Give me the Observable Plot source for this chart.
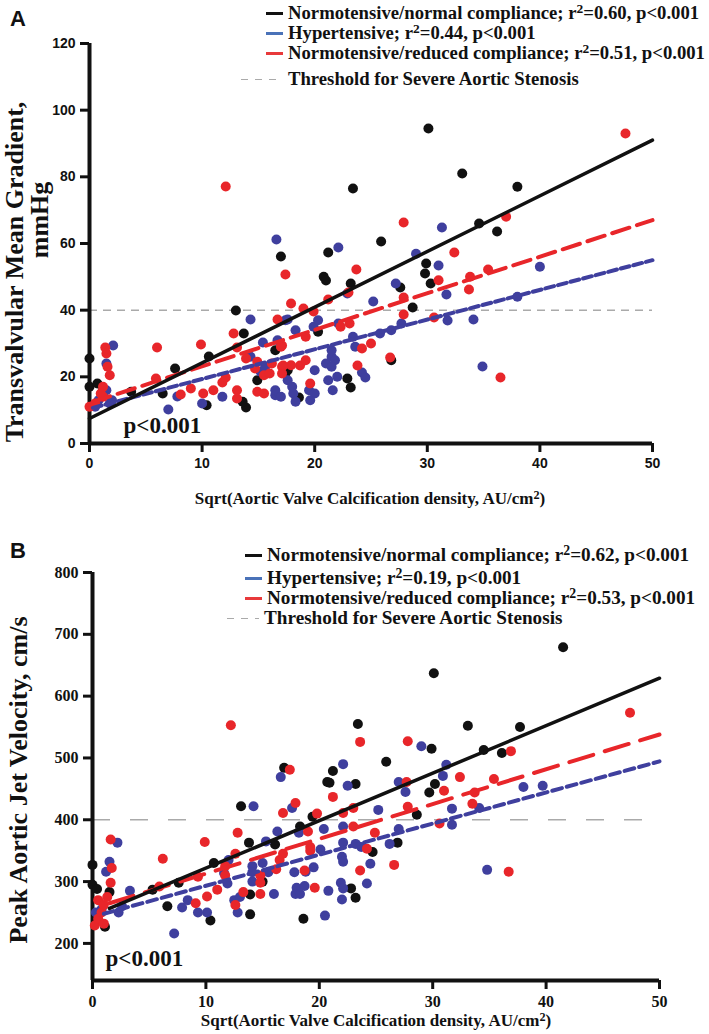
<!DOCTYPE html>
<html>
<head>
<meta charset="utf-8">
<script src="https://cdn.jsdelivr.net/npm/d3@7"></script>
<script src="https://cdn.jsdelivr.net/npm/@observablehq/plot@0.6"></script>
<style>
  html, body { margin: 0; padding: 0; background: #fff; }
  #root { position: relative; width: 709px; height: 1034px; background: #fff; overflow: hidden; }
  .abs { position: absolute; white-space: nowrap; }
  .serif { font-family: "Liberation Serif", "Times New Roman", serif; font-weight: bold; color: #111; }
  .sans { font-family: "Liberation Sans", Arial, sans-serif; font-weight: bold; color: #111; }
  .sup { font-size: 0.72em; position: relative; top: -0.45em; }
  .rowA { height: 20px; line-height: 20px; font-size: 18.7px; }
  .rowB { height: 20px; line-height: 20px; font-size: 19.2px; }
  .dash { display: inline-block; vertical-align: middle; height: 3px; margin-right: 5px; position: relative; top: -1px; }
  .ylab { transform: translate(-50%, -50%) rotate(-90deg); font-size: 26px; line-height: 1; }
</style>
</head>
<body>
<div id="root">
  <div id="pa" class="abs" style="left:0;top:0"></div>
  <div id="pb" class="abs" style="left:0;top:520px"></div>

  <div class="abs sans" style="left:10px;top:6px;font-size:22px">A</div>
  <div class="abs sans" style="left:10px;top:538px;font-size:22px">B</div>

  <div class="abs serif rowA" style="left:266px;top:3px"><span class="dash" style="width:17px;background:#111"></span>Normotensive/normal compliance; r<span class="sup">2</span>=0.60, p&lt;0.001</div>
  <div class="abs serif rowA" style="left:266px;top:23px"><span class="dash" style="width:17px;background:#4a72b8"></span>Hypertensive; r<span class="sup">2</span>=0.44, p&lt;0.001</div>
  <div class="abs serif rowA" style="left:266px;top:43px"><span class="dash" style="width:17px;background:#e8393b"></span>Normotensive/reduced compliance; r<span class="sup">2</span>=0.51, p&lt;0.001</div>
  <div class="abs serif rowA" style="left:241px;top:69px"><span class="dash" style="width:42px;height:1.5px;background:repeating-linear-gradient(90deg,#aaa 0 7px,transparent 7px 14px)"></span>Threshold for Severe Aortic Stenosis</div>

  <div class="abs serif rowB" style="left:245px;top:545px"><span class="dash" style="width:17px;background:#111"></span>Normotensive/normal compliance; r<span class="sup">2</span>=0.62, p&lt;0.001</div>
  <div class="abs serif rowB" style="left:245px;top:568px"><span class="dash" style="width:17px;background:#4a72b8"></span>Hypertensive; r<span class="sup">2</span>=0.19, p&lt;0.001</div>
  <div class="abs serif rowB" style="left:245px;top:588px"><span class="dash" style="width:17px;background:#e8393b"></span>Normotensive/reduced compliance; r<span class="sup">2</span>=0.53, p&lt;0.001</div>
  <div class="abs serif rowB" style="left:227px;top:608px"><span class="dash" style="width:32px;height:1.5px;background:repeating-linear-gradient(90deg,#aaa 0 7px,transparent 7px 14px)"></span>Threshold for Severe Aortic Stenosis</div>

  <div class="abs serif ylab" style="left:15px;top:272px">Transvalvular Mean Gradient,</div>
  <div class="abs serif ylab" style="left:40px;top:220px">mmHg</div>
  <div class="abs serif ylab" style="left:19px;top:780px">Peak Aortic Jet Velocity, cm/s</div>

  <div class="abs serif" style="left:370px;top:499px;transform:translate(-50%,-50%);font-size:17px">Sqrt(Aortic Valve Calcification density, AU/cm<span class="sup">2</span>)</div>
  <div class="abs serif" style="left:376px;top:1021px;transform:translate(-50%,-50%);font-size:17px">Sqrt(Aortic Valve Calcification density, AU/cm<span class="sup">2</span>)</div>
</div>
<script>
// ---------- Tick values ----------
const xTicks = [0, 10, 20, 30, 40, 50];
const yTicksA = [0, 20, 40, 60, 80, 100, 120];
const yTicksB = [200, 300, 400, 500, 600, 700, 800];
const thresholdA = [40];
const thresholdB = [400];

// ---------- Panel A: Transvalvular mean gradient (mmHg) ----------
const blackA = [[0,25.5],[0,17],[0.7,18],[1.2,16],[3.7,15.5],[6.5,15],[7.6,22.5],[10.4,11.5],[10.6,26.1],[13.0,39.9],[13.7,33],[13.9,10.8],[13.6,12.5],[14.9,19],[16.5,28],[17.0,56.1],[17.4,21],[17.6,22],[18.4,13.5],[18.6,13.8],[20.3,33.5],[20.8,50],[21,48.9],[21.2,57.3],[22.9,19.5],[23.2,16.8],[23.2,48],[23.4,76.5],[25.9,60.6],[26.8,25],[27.6,46.8],[28.7,40.8],[29.8,51],[29.9,54],[30.3,48],[30.1,94.5],[33.1,81],[34.6,66],[36.2,63.6],[38,77]];
const blueA = [[1.5,24],[1.5,16],[2.1,29.4],[1.8,12],[0.8,13],[7.0,10.2],[7.8,14.1],[10.0,12],[11.8,14],[14.3,37.2],[14.3,26],[15.2,21.5],[15.4,30.3],[15.6,23],[16.5,14.5],[16.5,16],[16.6,61.2],[16.7,31],[17.4,37],[17.6,37.2],[17.6,19],[18.0,17],[18.1,15],[18.3,34],[17,14],[18.3,12.5],[19.9,35],[20.3,37],[19.5,16],[20,22],[21,24],[21.5,26],[22,20],[22.1,58.8],[22.1,36],[22.9,45],[21.5,28],[21.8,25],[21.5,23],[21.2,19],[21.6,16],[20,15],[19.6,13],[23.4,32],[23.6,29],[24.2,21.3],[24.5,19.8],[25.2,42.6],[25.8,33],[26.8,34],[27.2,48],[27.7,36],[29.0,56.9],[31.0,53.4],[31.7,44.7],[31.8,36.9],[34.1,37.2],[34.9,23.1],[31.3,64.8],[38,44],[40,53],[0.5,11],[2,13]];
const redA = [[0,11],[0.5,12],[1.2,17],[1.2,14],[1.4,28.8],[1.5,27],[1.6,23],[1.8,20.5],[1,15],[6.0,28.8],[5.9,19.5],[8.1,14.7],[9.0,16.5],[9.9,29.7],[10.1,15],[11,16],[11.8,18.3],[12.1,19.8],[12.1,77.1],[12.8,33],[13.1,28.8],[13.1,13.5],[13.1,16],[13.9,25.5],[14.7,22.5],[14.9,24.5],[14.9,15.5],[15.5,15],[15.5,20.5],[16,21],[16.2,24],[17.1,29.4],[17.1,23],[17.1,21],[17.4,50.7],[17.9,42],[16.7,37.2],[17.9,23.5],[17,29],[17.2,23.4],[18.7,23.4],[19.2,25],[19.6,18],[19.2,32],[19,40.5],[19.9,39.6],[21.2,43.2],[22.3,35],[23.1,36],[23,45.3],[23.7,52.2],[23.8,23.4],[24.2,28.5],[25,30],[26.7,25.8],[27.9,66.3],[27.9,43.8],[27.9,38.7],[30.6,37.8],[31,49],[32.4,57.3],[33.7,46.2],[33.8,50],[35.4,52.2],[36.5,19.8],[37,68],[47.6,93]];
// Regression lines: [x, y] at start and end
const fitBlackA = [[0,7.5],[50,91]];
const fitBlueA = [[0.3,10.7],[50,55]];
const fitRedA = [[0.3,12.5],[50,67]];

// ---------- Panel B: Peak aortic jet velocity (cm/s) ----------
const blackB = [[0,327],[0,295],[0.4,288],[1.1,227],[1.5,283],[5.3,287],[6.6,260],[7.6,298],[10.4,237],[10.7,330],[13.1,422],[13.8,363],[13.9,247],[13.9,279],[16.1,360],[16.9,484],[18.3,389],[18.6,240],[19.4,405],[20.7,461],[20.9,460],[21.2,479],[22.8,289],[23.2,274],[23.2,458],[23.4,555],[24.7,348],[25.9,494],[26.9,363],[28.6,408],[29.7,444],[29.9,515],[30.2,458],[30.1,637],[33.1,552],[34.5,513],[36.1,508],[37.7,550],[41.5,679],[15,300]];
const blueB = [[0.3,250],[0.8,255],[1.2,316],[1.5,332],[2.2,363],[2.3,250],[2.6,260],[3.3,285],[7.2,216],[7.9,258],[8.4,270],[9.3,250],[10.1,250],[11.6,314],[11.9,297],[12,335],[12.5,270],[12.8,250],[13,275],[14.1,325],[14.1,315],[14.1,300],[14.2,422],[15.3,365],[15,330],[15.5,315],[16.3,381],[16,280],[16.6,469],[17.6,419],[17.8,315],[18,290],[18.2,379],[18.8,316],[18.7,293],[17.9,280],[18.3,280],[19.5,323],[20.1,352],[20.4,385],[20.5,245],[20.8,285],[21.9,298],[22.1,289],[22,271],[22,340],[22.1,332],[22.1,363],[22.1,389],[22.1,490],[22.5,455],[23.2,361],[23.7,356],[24.2,297],[24.5,329],[25.2,416],[26.2,361],[27,385],[27,461],[27.6,445],[29,519],[31.2,489],[30.9,471],[31.7,418],[31.7,392],[34.1,419],[34.8,319],[38,453],[39.7,455]];
const redB = [[0.2,229],[0.5,240],[0.5,270],[0.8,250],[1,262],[1.3,275],[1,232],[1.6,368],[1.7,322],[1.6,298],[5.9,292],[6.2,337],[9.1,265],[9.3,308],[9.9,364],[10.1,276],[11,287],[11.7,310],[11.7,325],[12.2,553],[12.8,379],[12.6,345],[12.6,262],[13.3,283],[14.8,310],[14.8,298],[14.8,280],[16.2,320],[16.5,335],[16.8,345],[16.8,411],[17.4,481],[17.9,427],[18.7,318],[19,381],[19.2,356],[19.2,350],[19.6,290],[19.8,410],[21.2,437],[22.1,411],[23,419],[23,389],[23.6,318],[23.6,526],[24.2,353],[24.9,379],[26.6,327],[27.7,461],[27.8,421],[27.8,527],[30.6,394],[31,447],[32.4,469],[33.5,426],[33.7,444],[35.4,466],[36.7,316],[36.9,511],[47.4,573]];
const fitBlackB = [[1.5,256.5],[50,629]];
const fitBlueB = [[1,248],[50,494.5]];
const fitRedB = [[1.5,265],[50,538]];

// ---------- Styling ----------
const BLACK = "#111111", BLUE = "#3f3f9e", RED = "#e8262a", GREY = "#aaaaaa";
const SERIF = "Liberation Serif, Times New Roman, serif";
const SANS = "Liberation Sans, Arial, sans-serif";

function panel({blk, blu, red, fitK, fitB, fitR, thr, yDomain, yTicks, ml, mr, mt, mb, h, tickFont, tickSize, thrDash, redDash, blueDash, pDx, pDy}) {
  return Plot.plot({
    width: 709, height: h,
    marginLeft: ml, marginRight: mr, marginTop: mt, marginBottom: mb,
    style: {background: "white", color: BLACK, fontFamily: tickFont, fontWeight: "bold", fontSize: tickSize + "px"},
    x: {domain: [0, 50]},
    y: {domain: yDomain},
    marks: [
      Plot.ruleY(thr, {stroke: GREY, strokeWidth: 1.5, strokeDasharray: thrDash}),
      Plot.axisX({ticks: xTicks, tickSize: 9, tickPadding: 6, strokeWidth: 3, label: null, fontSize: tickSize, fontWeight: "bold", fontFamily: tickFont}),
      Plot.axisY({ticks: yTicks, tickSize: 9, tickPadding: 5, strokeWidth: 3, label: null, fontSize: tickSize, fontWeight: "bold", fontFamily: tickFont}),
      Plot.ruleX([0], {strokeWidth: 4, stroke: BLACK}),
      Plot.ruleY([yDomain[0]], {strokeWidth: 4, stroke: BLACK}),
      Plot.dot(blk, {x: d => d[0], y: d => d[1], r: 5, fill: BLACK}),
      Plot.dot(blu, {x: d => d[0], y: d => d[1], r: 5, fill: BLUE}),
      Plot.dot(red, {x: d => d[0], y: d => d[1], r: 5, fill: RED}),
      Plot.line(fitB, {x: d => d[0], y: d => d[1], stroke: BLUE, strokeWidth: 4, strokeDasharray: blueDash}),
      Plot.line(fitR, {x: d => d[0], y: d => d[1], stroke: RED, strokeWidth: 4, strokeDasharray: redDash}),
      Plot.line(fitK, {x: d => d[0], y: d => d[1], stroke: BLACK, strokeWidth: 3.5}),
      Plot.text(["p<0.001"], {frameAnchor: "bottom-left", dx: pDx, dy: pDy, textAnchor: "start", lineAnchor: "middle", fontSize: 23, fontWeight: "bold", fontFamily: SERIF, fill: BLACK})
    ]
  });
}

document.getElementById("pa").appendChild(panel({
  blk: blackA, blu: blueA, red: redA, fitK: fitBlackA, fitB: fitBlueA, fitR: fitRedA,
  thr: thresholdA, yDomain: [0, 120], yTicks: yTicksA,
  ml: 89, mr: 57, mt: 43, mb: 77, h: 520, tickFont: SANS, tickSize: 14,
  thrDash: "8,6", redDash: "18,8", blueDash: "9,4", pDx: 34, pDy: -18
}));

document.getElementById("pb").appendChild(panel({
  blk: blackB, blu: blueB, red: redB, fitK: fitBlackB, fitB: fitBlueB, fitR: fitRedB,
  thr: thresholdB, yDomain: [140, 800], yTicks: yTicksB,
  ml: 92, mr: 50, mt: 52, mb: 54, h: 514, tickFont: SERIF, tickSize: 16,
  thrDash: "18,20", redDash: "25,12", blueDash: "10,5", pDx: 13, pDy: -22
}));
</script>
</body>
</html>
